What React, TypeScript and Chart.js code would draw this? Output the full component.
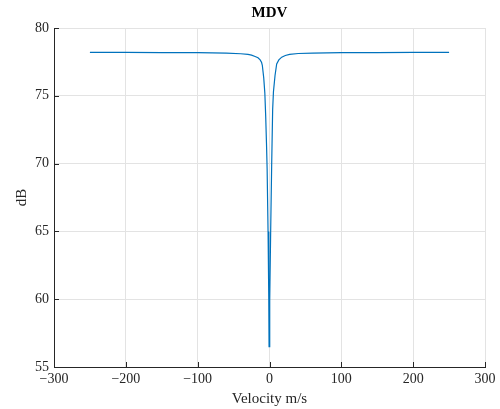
import React, { useEffect, useRef } from "react";
import { Chart, registerables } from "chart.js";

Chart.register(...registerables);

const chartTitle = "MDV";
const xLabel = "Velocity m/s";
const yLabel = "dB";

const velocity = [
  -250, -200, -150, -100, -60, -40, -30, -25, -20, -16, -13, -11, -10, -8, -6.5, -5.3, -4.2, -3.3, -2, -1, -0.6,
  0.3, 1.6, 3, 4.4, 5.5, 7.7, 10, 13, 17, 22, 28, 40, 60, 100, 150, 200, 250,
];
const mdvDb = [
  78.2, 78.2, 78.19, 78.18, 78.15, 78.1, 78.05, 78.0, 77.9, 77.8, 77.65, 77.45, 77.25, 76.3, 75.2, 73.5, 71.5, 69.6, 65.0, 60.0, 56.5,
  59.9, 64.9, 69.8, 74.0, 75.3, 76.5, 77.35, 77.65, 77.85, 77.97, 78.06, 78.12, 78.15, 78.18, 78.19, 78.2, 78.2,
];

const FONT = '"Liberation Serif", "DejaVu Serif", serif';
const AXIS_COLOR = "#262626";

const matlabAxes = {
  id: "matlabAxes",
  afterDraw(chart: any) {
    const { ctx, chartArea, scales } = chart;
    const { left, right, top, bottom } = chartArea;
    ctx.save();
    ctx.strokeStyle = AXIS_COLOR;
    ctx.lineWidth = 1;
    ctx.beginPath();
    scales.x.ticks.forEach((t: any) => {
      const px = Math.round(scales.x.getPixelForValue(t.value)) + 0.5;
      ctx.moveTo(px, bottom);
      ctx.lineTo(px, bottom - 5);
    });
    scales.y.ticks.forEach((t: any) => {
      const py = Math.round(scales.y.getPixelForValue(t.value)) + 0.5;
      ctx.moveTo(left, py);
      ctx.lineTo(left + 5, py);
    });
    ctx.stroke();
    ctx.fillStyle = "#000";
    ctx.font = `bold 15px ${FONT}`;
    ctx.textAlign = "center";
    ctx.textBaseline = "middle";
    ctx.fillText(chartTitle, (left + right) / 2, top - 15);
    ctx.restore();
  },
};

export default function App() {
  const ref = useRef<HTMLCanvasElement>(null);
  useEffect(() => {
    if (!ref.current) return;
    const points = velocity.map((v, i) => ({ x: v, y: mdvDb[i] }));
    const minus = (v: any) => String(v).replace("-", "\u2212");
    const chart = new Chart(ref.current, {
      type: "line",
      data: {
        datasets: [
          {
            data: points,
            borderColor: "#0072BD",
            borderWidth: 1.2,
            pointRadius: 0,
            tension: 0,
            fill: false,
          },
        ],
      },
      options: {
        responsive: false,
        animation: false,
        layout: { padding: { top: 28, right: 15, left: 0, bottom: 0 } },
        plugins: { legend: { display: false }, tooltip: { enabled: false }, title: { display: false } },
        scales: {
          x: {
            type: "linear",
            min: -300,
            max: 300,
            afterFit: (s: any) => {
              s.height = 42;
            },
            ticks: {
              stepSize: 100,
              padding: 4,
              color: AXIS_COLOR,
              font: { family: FONT, size: 14 },
              callback: minus,
              maxRotation: 0,
            },
            grid: { color: "#e3e3e3", drawTicks: false },
            border: { display: true, color: AXIS_COLOR, width: 1 },
            title: {
              display: true,
              text: xLabel,
              color: AXIS_COLOR,
              font: { family: FONT, size: 15 },
              padding: { top: 0, bottom: 1 },
            },
          },
          y: {
            type: "linear",
            min: 55,
            max: 80,
            afterFit: (s: any) => {
              s.width = 54;
            },
            ticks: {
              stepSize: 5,
              padding: 5,
              color: AXIS_COLOR,
              font: { family: FONT, size: 14 },
              callback: minus,
            },
            grid: { color: "#e3e3e3", drawTicks: false },
            border: { display: true, color: AXIS_COLOR, width: 1 },
            title: {
              display: true,
              text: yLabel,
              color: AXIS_COLOR,
              font: { family: FONT, size: 15 },
              padding: { top: 13, bottom: 0 },
            },
          },
        },
      },
      plugins: [matlabAxes],
    });
    return () => chart.destroy();
  }, []);
  return (
    <div style={{ position: "absolute", left: 0, top: 0, width: 500, height: 409, background: "#fff" }}>
      <canvas ref={ref} width={500} height={409} style={{ display: "block" }} />
    </div>
  );
}
